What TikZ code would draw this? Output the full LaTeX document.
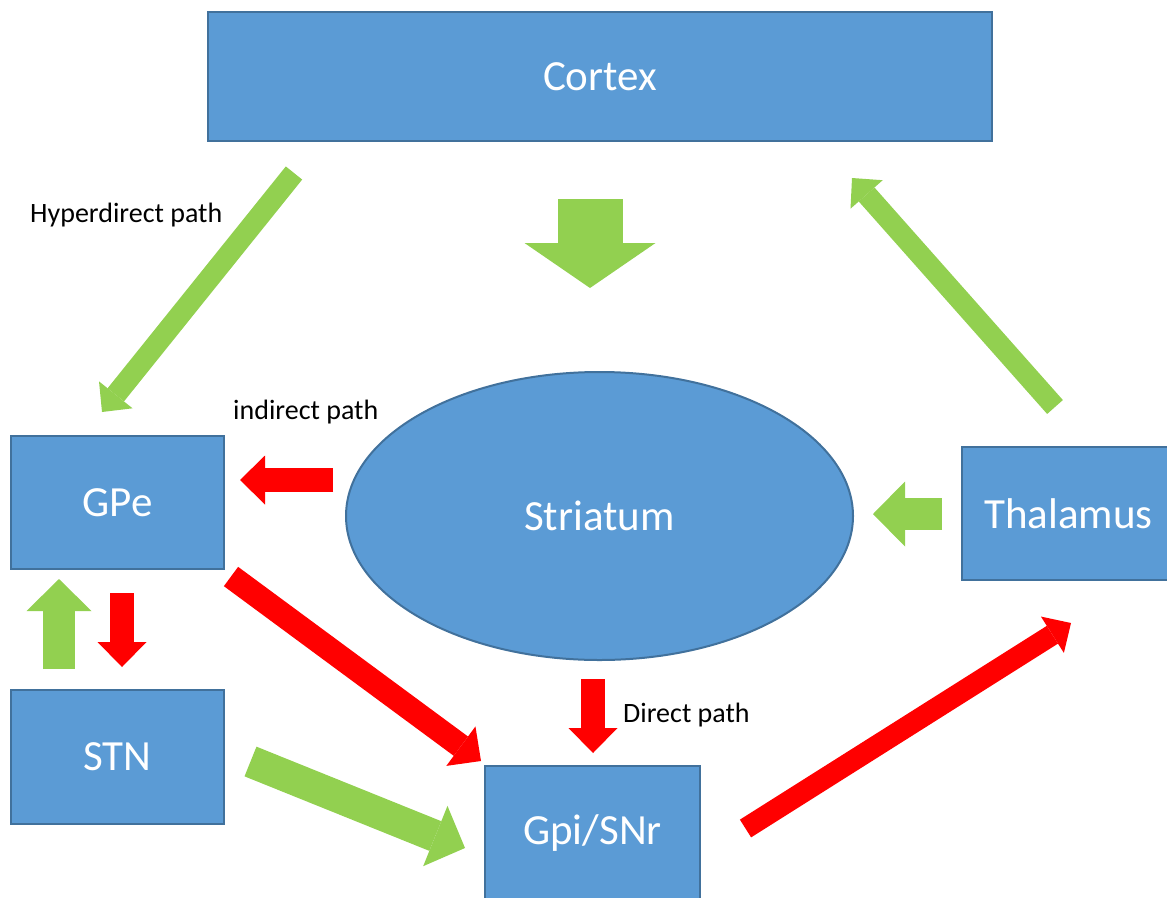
\documentclass[tikz,border=0pt]{standalone}
\usepackage{fontspec}
\setmainfont{Carlito}
\usetikzlibrary{arrows.meta,shapes.geometric}
\definecolor{boxblue}{HTML}{5B9BD5}
\definecolor{boxline}{HTML}{41719C}
\definecolor{pathgreen}{HTML}{92D050}
\definecolor{pathred}{HTML}{FF0000}

\begin{document}
\begin{tikzpicture}[x=1pt,y=-1pt]
	\tikzstyle{region}=[draw=boxline,line width=2pt,fill=boxblue,text=white,inner sep=0pt,font=\fontsize{43}{50}\selectfont]
	\tikzstyle{pathname}=[anchor=base west,inner sep=0pt,font=\fontsize{28}{34}\selectfont]
	\tikzstyle{excite}=[draw=pathgreen,color=pathgreen]
	\tikzstyle{inhibit}=[draw=pathred,color=pathred]
	\tikzstyle{huge arrow}=[line width=65pt,-{Triangle[width=131pt,length=45pt,line width=0pt]}]
	\tikzstyle{thick arrow}=[line width=32pt,-{Triangle[width=65pt,length=32pt,line width=0pt]}]
	\tikzstyle{small arrow}=[line width=24pt,-{Triangle[width=49pt,length=25pt,line width=0pt]}]
	\tikzstyle{thin arrow}=[line width=21pt,-{Triangle[width=43pt,length=22pt,line width=0pt]}]
	
	\clip (0,0) rectangle (1167,897);
	
	\node[region,minimum width=784pt,minimum height=129pt] (cortex) at (600,76.5) {Cortex};
	\node[region,ellipse,minimum width=507pt,minimum height=288pt] (striatum) at (599.5,516) {Striatum};
	\node[region,minimum width=213pt,minimum height=133pt] (gpe) at (117.5,502.5) {GPe};
	\node[region,minimum width=213pt,minimum height=134pt] (stn) at (117.5,757) {STN};
	\node[region,minimum width=215pt,minimum height=134pt] (gpi) at (592.5,833) {Gpi/SNr};
	\node[region,minimum width=213pt,minimum height=133pt] (thalamus) at (1068.5,513.5) {Thalamus};
	
	\node[pathname] (hyper) at (30,222) {Hyperdirect path};
	\node[pathname] (indirect) at (233,419) {indirect path};
	\node[pathname] (direct) at (623,722) {Direct path};
	
	\coordinate (hyper-s) at (294,173);
	\coordinate (hyper-e) at (102,412);
	\coordinate (cortex-s) at (590,199);
	\coordinate (cortex-e) at (590,288);
	\coordinate (loop-s) at (1055,407);
	\coordinate (loop-e) at (852,178);
	\coordinate (thal-s) at (942,514);
	\coordinate (thal-e) at (873,514);
	\coordinate (indirect-s) at (333,480);
	\coordinate (indirect-e) at (240,480);
	\coordinate (direct-s) at (593,679);
	\coordinate (direct-e) at (593,753);
	\coordinate (gpe-s) at (122,593);
	\coordinate (gpe-e) at (122,667);
	\coordinate (stn-s) at (59,669);
	\coordinate (stn-e) at (59,579);
	\coordinate (pallid-s) at (231,576.5);
	\coordinate (pallid-e) at (481,761);
	\coordinate (subth-s) at (250.5,761.5);
	\coordinate (subth-e) at (465,848);
	\coordinate (out-s) at (745.5,828.5);
	\coordinate (out-e) at (1071,623);
	
	\draw[excite,huge arrow] (cortex-s) -- (cortex-e);
	\draw[excite,thin arrow] (hyper-s) -- (hyper-e);
	\draw[excite,thin arrow] (loop-s) -- (loop-e);
	\draw[excite,thick arrow] (thal-s) -- (thal-e);
	\draw[excite,thick arrow] (stn-s) -- (stn-e);
	\draw[excite,thick arrow] (subth-s) -- (subth-e);
	\draw[inhibit,small arrow] (indirect-s) -- (indirect-e);
	\draw[inhibit,small arrow] (direct-s) -- (direct-e);
	\draw[inhibit,small arrow] (gpe-s) -- (gpe-e);
	\draw[inhibit,small arrow] (pallid-s) -- (pallid-e);
	\draw[inhibit,thin arrow] (out-s) -- (out-e);
\end{tikzpicture}
\end{document}
